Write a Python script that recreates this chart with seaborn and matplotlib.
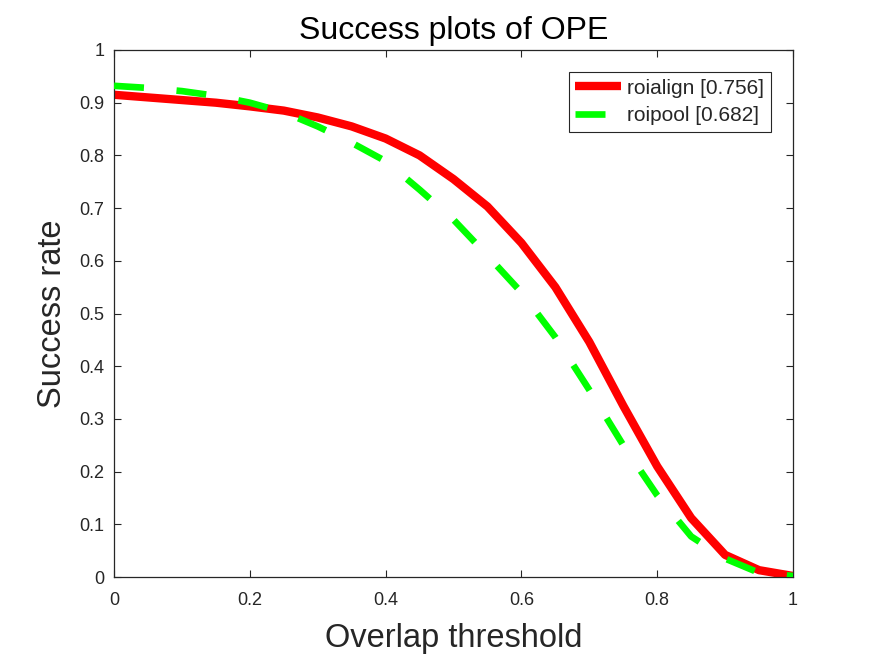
import numpy as np
import pandas as pd
import matplotlib
matplotlib.use("Agg")
import matplotlib.pyplot as plt
import seaborn as sns
from matplotlib.lines import Line2D

thresholds = [0.0, 0.05, 0.1, 0.15, 0.2, 0.25, 0.3, 0.35, 0.4, 0.45, 0.5,
              0.55, 0.6, 0.65, 0.7, 0.75, 0.8, 0.85, 0.9, 0.95, 1.0]
roialign = [0.915, 0.910, 0.905, 0.900, 0.893, 0.885, 0.872, 0.855, 0.832, 0.800, 0.755,
            0.703, 0.634, 0.550, 0.446, 0.325, 0.210, 0.112, 0.042, 0.013, 0.002]
roipool = [0.932, 0.928, 0.922, 0.913, 0.900, 0.882, 0.855, 0.824, 0.789, 0.735, 0.678,
           0.610, 0.540, 0.455, 0.355, 0.250, 0.155, 0.077, 0.035, 0.008, 0.002]
series_names = ["roialign [0.756]", "roipool [0.682]"]
xticks = [0, 0.2, 0.4, 0.6, 0.8, 1]
xticklabels = ["0", "0.2", "0.4", "0.6", "0.8", "1"]
yticks = [0, 0.1, 0.2, 0.3, 0.4, 0.5, 0.6, 0.7, 0.8, 0.9, 1]
yticklabels = ["0", "0.1", "0.2", "0.3", "0.4", "0.5", "0.6", "0.7", "0.8", "0.9", "1"]

df = pd.DataFrame({
    "threshold": thresholds * 2,
    "rate": roialign + roipool,
    "method": [series_names[0]] * len(thresholds) + [series_names[1]] * len(thresholds),
})

sns.set_theme(style="white")
plt.rcParams['font.family'] = ['Liberation Sans', 'DejaVu Sans']

fig = plt.figure(figsize=(8.75, 6.56), dpi=100)
ax = fig.add_axes([0.1303, 0.1204, 0.776, 0.8034])

sns.lineplot(data=df, x="threshold", y="rate", hue="method",
             palette={series_names[0]: "#ff0000", series_names[1]: "#00ff00"},
             ax=ax, legend=False, estimator=None, sort=False)
lines = ax.get_lines()
red_lw, green_lw = 6.0, 4.8
green_dash = (4.5, 4.9)
lines[0].set_linewidth(red_lw)
lines[0].set_solid_joinstyle("round")
lines[0].set_solid_capstyle("butt")
lines[1].set_linewidth(green_lw)
lines[1].set_dashes(green_dash)
lines[1].set_dash_capstyle("butt")
lines[1].set_zorder(3)
lines[0].set_zorder(2)

ax.set_xlim(0, 1)
ax.set_ylim(0, 1)
ax.set_xticks(xticks)
ax.set_xticklabels(xticklabels)
ax.set_yticks(yticks)
ax.set_yticklabels(yticklabels)
tc = "#262626"
ax.tick_params(direction="in", length=5, width=0.8, colors=tc, labelcolor=tc,
               labelsize=13, top=True, right=True, bottom=True, left=True)
ax.tick_params(axis="x", pad=11)
ax.tick_params(axis="y", pad=7)
for s in ax.spines.values():
    s.set_color(tc)
    s.set_linewidth(0.9)
    s.set_visible(True)

ax.set_xlabel("Overlap threshold", fontsize=23.5, color=tc, labelpad=10)
ax.set_ylabel("Success rate", fontsize=23.5, color=tc, labelpad=8)
ax.set_title("Success plots of OPE", fontsize=23, color="black", pad=8)

handles = [Line2D([], [], color="#ff0000", lw=red_lw, solid_capstyle="butt"),
           Line2D([], [], color="#00ff00", lw=green_lw, dashes=green_dash,
                  dash_capstyle="butt")]
leg = ax.legend(handles, series_names, loc="upper right",
                bbox_to_anchor=(0.9676, 0.958), borderaxespad=0,
                fontsize=15, frameon=True, fancybox=False, edgecolor=tc,
                framealpha=1, handlelength=2.2, borderpad=0.32, labelspacing=0.39,
                handletextpad=0.3)
leg.get_frame().set_linewidth(0.8)
for t in leg.get_texts():
    t.set_color(tc)

fig.savefig("out.png", dpi=100, facecolor="white")
